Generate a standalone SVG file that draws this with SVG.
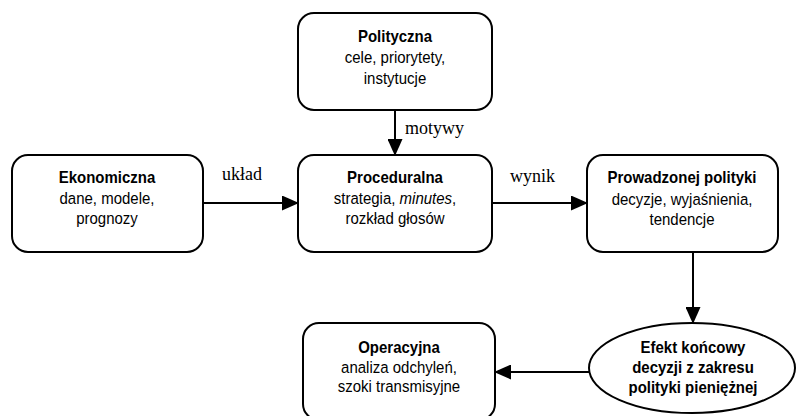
<svg xmlns="http://www.w3.org/2000/svg" width="796" height="416" viewBox="0 0 796 416">
  <style>
    .box { fill: #ffffff; stroke: #000000; stroke-width: 2; }
    .edge { fill: none; stroke: #000000; stroke-width: 2; }
    .t { font-family: "Liberation Sans", Arial, sans-serif; font-size: 15px; fill: #000000; text-anchor: middle; }
    .b { font-weight: bold; }
    .lbl { font-family: "Liberation Serif", "Times New Roman", serif; font-size: 18px; fill: #000000; }
  </style>
  <defs>
    <marker id="arrow" viewBox="0 0 17 15" refX="16" refY="7.5" markerUnits="userSpaceOnUse" markerWidth="17" markerHeight="15" orient="auto">
      <path d="M0,0 L17,7.5 L0,15 Z" fill="#000000"/>
    </marker>
  </defs>

  <rect width="796" height="416" fill="#ffffff"/>

  <g id="connectors">
    <line class="edge" x1="395" y1="110" x2="395" y2="155" marker-end="url(#arrow)"/>
    <text class="lbl" x="405" y="134">motywy</text>
    <line class="edge" x1="203" y1="203" x2="298" y2="203" marker-end="url(#arrow)"/>
    <text class="lbl" x="222" y="180">układ</text>
    <line class="edge" x1="492" y1="203" x2="587" y2="203" marker-end="url(#arrow)"/>
    <text class="lbl" x="510" y="182">wynik</text>
    <line class="edge" x1="693" y1="252" x2="693" y2="323" marker-end="url(#arrow)"/>
    <line class="edge" x1="589" y1="372" x2="495" y2="372" marker-end="url(#arrow)"/>
  </g>

  <!-- node texts are drawn slightly taller than wide: translate to baseline, then stretch -->
  <g id="polityczna">
    <rect class="box" x="298" y="13" width="194" height="97" rx="16" ry="16"/>
    <text class="t b" transform="translate(395,42) scale(1,1.1)">Polityczna</text>
    <text class="t" transform="translate(395,63) scale(1,1.1)">cele, priorytety,</text>
    <text class="t" transform="translate(395,84) scale(1,1.1)">instytucje</text>
  </g>

  <g id="ekonomiczna">
    <rect class="box" x="12" y="155" width="191" height="97" rx="16" ry="16"/>
    <text class="t b" transform="translate(107,183) scale(1,1.1)">Ekonomiczna</text>
    <text class="t" transform="translate(107,204) scale(1,1.1)">dane, modele,</text>
    <text class="t" transform="translate(107,224) scale(1,1.1)">prognozy</text>
  </g>

  <g id="proceduralna">
    <rect class="box" x="298" y="155" width="194" height="97" rx="16" ry="16"/>
    <text class="t b" transform="translate(395,183) scale(1,1.1)">Proceduralna</text>
    <text class="t" transform="translate(395,204) scale(1,1.1)">strategia, <tspan font-style="italic">minutes</tspan>,</text>
    <text class="t" transform="translate(395,224) scale(1,1.1)">rozkład głosów</text>
  </g>

  <g id="prowadzonej">
    <rect class="box" x="587" y="155" width="191" height="97" rx="16" ry="16"/>
    <text class="t b" transform="translate(682,183) scale(1,1.1)">Prowadzonej polityki</text>
    <text class="t" transform="translate(682,205) scale(1,1.1)">decyzje, wyjaśnienia,</text>
    <text class="t" transform="translate(682,225) scale(1,1.1)">tendencje</text>
  </g>

  <g id="efekt">
    <ellipse class="box" cx="692" cy="368" rx="103" ry="45"/>
    <text class="t b" transform="translate(693,353) scale(1,1.1)">Efekt końcowy</text>
    <text class="t b" transform="translate(693,373) scale(1,1.1)">decyzji z zakresu</text>
    <text class="t b" transform="translate(693,393) scale(1,1.1)">polityki pieniężnej</text>
  </g>

  <g id="operacyjna">
    <rect class="box" x="303" y="323" width="192" height="97" rx="16" ry="16"/>
    <text class="t b" transform="translate(399,353) scale(1,1.1)">Operacyjna</text>
    <text class="t" transform="translate(399,373) scale(1,1.1)">analiza odchyleń,</text>
    <text class="t" transform="translate(399,392) scale(1,1.1)">szoki transmisyjne</text>
  </g>
</svg>
